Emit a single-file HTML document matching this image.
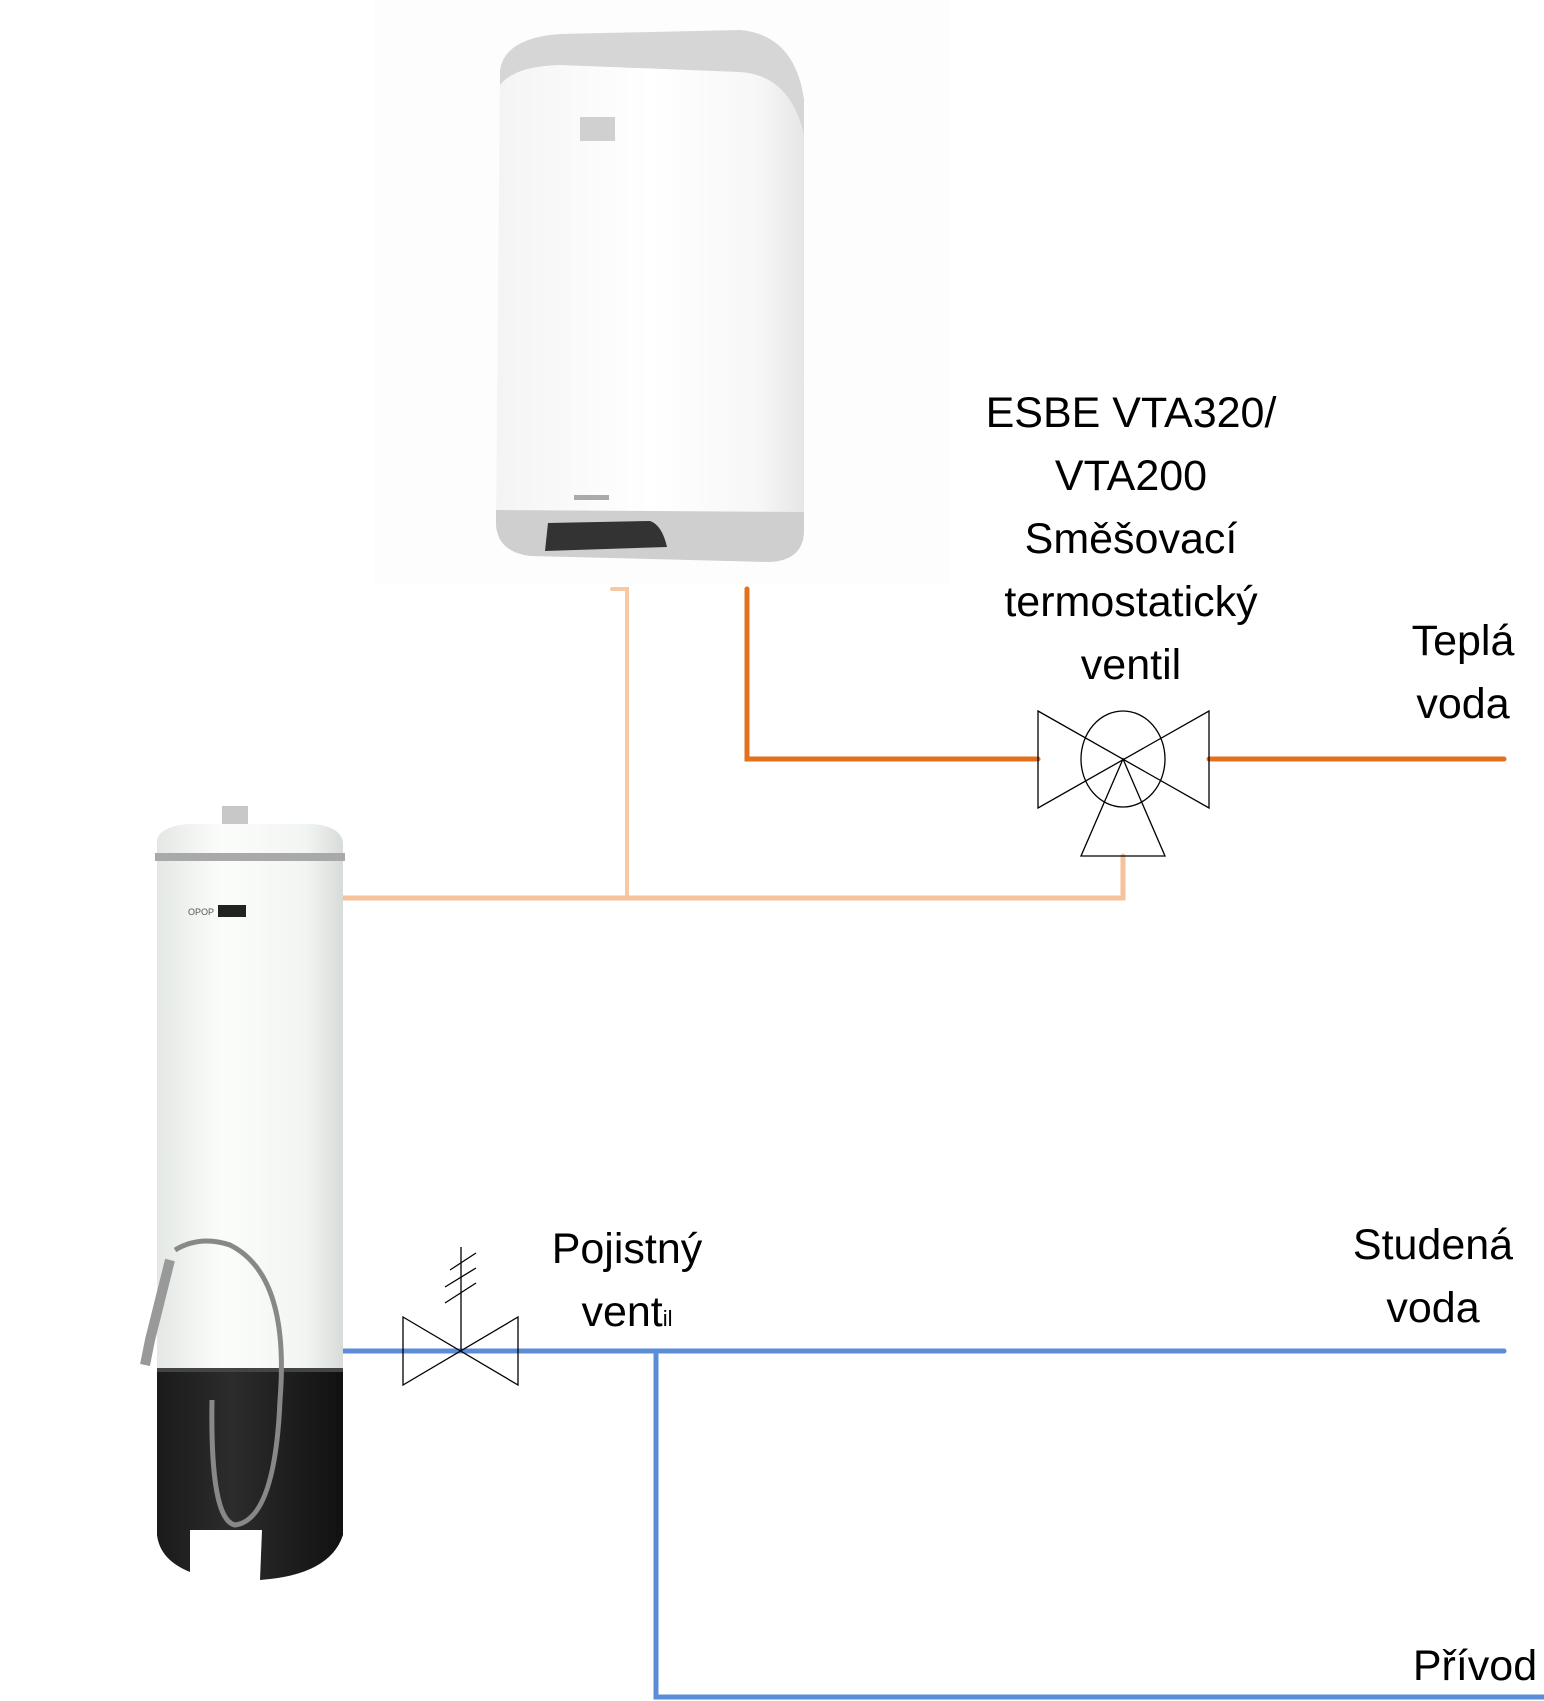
<!DOCTYPE html>
<html><head><meta charset="utf-8"><style>
html,body{margin:0;padding:0;background:#fff}
svg{display:block}
text{font-family:"Liberation Sans","DejaVu Sans",sans-serif;fill:#000}
</style></head><body>
<svg width="1544" height="1701" viewBox="0 0 1544 1701" xmlns="http://www.w3.org/2000/svg">
<defs>
<linearGradient id="wh" x1="0" x2="1" y1="0" y2="0">
<stop offset="0" stop-color="#f4f4f4"/><stop offset="0.5" stop-color="#ffffff"/><stop offset="0.85" stop-color="#f7f7f7"/><stop offset="1" stop-color="#e6e6e6"/>
</linearGradient>
<linearGradient id="cyl" x1="0" x2="1" y1="0" y2="0">
<stop offset="0" stop-color="#e4e8e4"/><stop offset="0.35" stop-color="#fbfdfb"/><stop offset="0.8" stop-color="#f2f5f2"/><stop offset="1" stop-color="#d8dcd8"/>
</linearGradient>
<linearGradient id="blk" x1="0" x2="1" y1="0" y2="0">
<stop offset="0" stop-color="#1a1a1a"/><stop offset="0.4" stop-color="#2c2c2c"/><stop offset="1" stop-color="#111"/>
</linearGradient>
</defs>
<rect x="374" y="0" width="575" height="585" fill="#fdfdfd"/>
<!-- top electric heater -->
<path d="M500,70 Q505,38 560,34 L740,30 Q795,35 804,100 L804,530 Q804,560 770,562 L530,556 Q498,552 496,525 Z" fill="url(#wh)"/>
<path d="M500,70 Q505,38 560,34 L740,30 Q795,35 804,100 L804,135 Q790,75 740,72 L560,65 Q515,66 500,85 Z" fill="#d6d6d6"/>
<path d="M496,510 L804,512 L804,530 Q804,560 770,562 L530,556 Q498,552 496,525 Z" fill="#cfcfcf"/>
<path d="M548,523 L650,521 Q662,525 667,547 L545,551 Z" fill="#333"/>
<rect x="580" y="117" width="35" height="24" fill="#d0d0d0"/>
<rect x="574" y="495" width="35" height="5" fill="#aaa"/>
<!-- pipes -->
<g fill="none" stroke-linecap="round">
<path d="M612,589 H627 V898" stroke="#f7c8a2" stroke-width="4"/>
<path d="M341,898 H1123 V856" stroke="#f5c29a" stroke-width="5"/>
<path d="M747,589 V759 H1038" stroke="#e3701c" stroke-width="5"/>
<path d="M1209,759 H1504" stroke="#e3701c" stroke-width="5"/>
<path d="M339,1351 H1504" stroke="#5a8cd8" stroke-width="5"/>
<path d="M656,1351 V1697 H1544" stroke="#5a8cd8" stroke-width="5"/>
</g>
<!-- mixing valve -->
<g fill="none" stroke="#000" stroke-width="1.3">
<path d="M1038,711 L1209,808 L1209,711 L1038,808 Z"/>
<ellipse cx="1123" cy="759" rx="42" ry="48"/>
<path d="M1123,759 L1081,856 L1165,856 Z"/>
</g>
<!-- safety valve -->
<g fill="none" stroke="#000" stroke-width="1.3">
<path d="M403,1317 L518,1385 L518,1317 L403,1385 Z"/>
<path d="M461,1351 V1247"/>
<path d="M450,1270 L476,1253 M445,1287 L476,1268 M445,1303 L476,1283"/>
</g>
<!-- bottom heater -->
<rect x="222" y="806" width="26" height="22" fill="#c8c8c8"/>
<path d="M157,840 Q160,826 190,824 L312,824 Q340,826 343,842 L343,1375 L157,1375 Z" fill="url(#cyl)"/>
<rect x="155" y="853" width="190" height="8" fill="#a9a9a9"/>
<path d="M157,1371 L343,1371 L343,1535 Q330,1575 260,1580 L262,1530 L190,1530 L190,1572 Q160,1560 157,1535 Z" fill="url(#blk)"/>
<rect x="157" y="1368" width="186" height="4" fill="#444"/>
<text x="188" y="915" font-size="9" fill="#555" style="fill:#555">OPOP</text>
<rect x="218" y="905" width="28" height="12" fill="#222"/>
<path d="M175,1250 Q200,1235 230,1245 Q290,1275 280,1400 Q275,1520 235,1525 Q210,1520 212,1400" fill="none" stroke="#888" stroke-width="5"/>
<path d="M170,1260 L150,1340 L145,1365" fill="none" stroke="#999" stroke-width="10"/>
<!-- labels -->
<g font-size="43" text-anchor="middle">
<text x="1131" y="427">ESBE VTA320/</text>
<text x="1131" y="490">VTA200</text>
<text x="1131" y="553">Směšovací</text>
<text x="1131" y="616">termostatický</text>
<text x="1131" y="679">ventil</text>
<text x="1463" y="655">Teplá</text>
<text x="1463" y="718">voda</text>
<text x="627" y="1263">Pojistný</text>
<text x="627" y="1326">vent<tspan font-size="22">il</tspan></text>
<text x="1433" y="1259">Studená</text>
<text x="1433" y="1322">voda</text>
<text x="1475" y="1680">Přívod</text>
</g>
</svg>
</body></html>
